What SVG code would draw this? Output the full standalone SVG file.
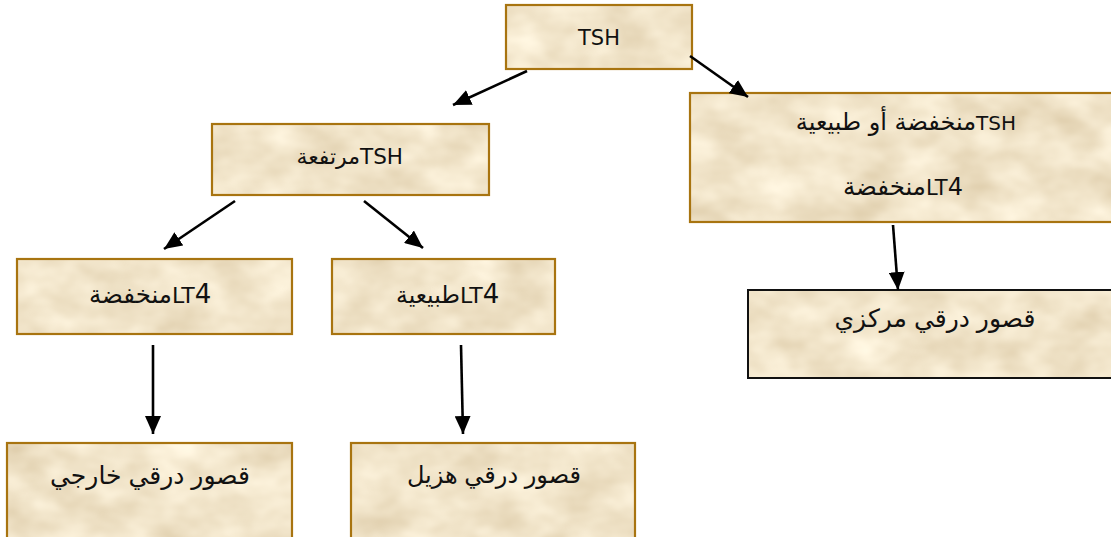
<svg xmlns="http://www.w3.org/2000/svg" width="1111" height="537" viewBox="0 0 1111 537">
  <defs>
    <!-- parchment texture for box fills -->
    <filter id="parch" x="0" y="0" width="100%" height="100%" color-interpolation-filters="sRGB">
      <feTurbulence type="fractalNoise" baseFrequency="0.02 0.03" numOctaves="3" seed="7" result="noise"/>
      <feColorMatrix in="noise" type="matrix" values="0.16 0 0 0 0.865  0.2 0 0 0 0.795  0.26 0 0 0 0.66  0 0 0 0 1" result="tint"/>
      <feComposite in="tint" in2="SourceGraphic" operator="in"/>
    </filter>
    <marker id="head" markerUnits="userSpaceOnUse" markerWidth="20" markerHeight="16" refX="18" refY="8" orient="auto">
      <path d="M0,0 L18,8 L0,16 Z" fill="#000"/>
    </marker>
    <style>
      .paper { fill: #F2E4C8; filter: url(#parch); }
      .edge { fill: none; stroke: #A87410; stroke-width: 2.2; }
      .edge-dark { fill: none; stroke: #111; stroke-width: 2; }
      .lbl { font-family: "DejaVu Sans", "Noto Sans", sans-serif; fill: #111; }
      .ar { font-family: "Liberation Sans", "DejaVu Sans", sans-serif; fill: #111; }
      .conn line { stroke: #000; stroke-width: 2.6; marker-end: url(#head); }
    </style>
  </defs>

  <rect width="1111" height="537" fill="#fff"/>

  <!-- root -->
  <g id="node-tsh">
    <rect class="paper" x="506" y="5" width="186" height="64"/>
    <rect class="edge" x="506" y="5" width="186" height="64"/>
    <text class="lbl" x="599" y="45" font-size="21" text-anchor="middle">TSH</text>
  </g>

  <!-- high TSH: Latin part right of the split, Arabic part left of it -->
  <g id="node-tsh-high">
    <rect class="paper" x="212" y="124" width="277" height="71"/>
    <rect class="edge" x="212" y="124" width="277" height="71"/>
    <text class="lbl" x="360" y="164" font-size="21.5">TSH</text>
    <text class="lbl" x="360" y="164" font-size="22" text-anchor="end">مرتفعة</text>
  </g>

  <!-- low or normal TSH -->
  <g id="node-tsh-low">
    <rect class="paper" x="690" y="93" width="430" height="129"/>
    <rect class="edge" x="690" y="93" width="430" height="129"/>
    <text class="lbl" x="976" y="130" font-size="20">TSH</text>
    <text class="lbl" x="976" y="130" font-size="24" text-anchor="end">منخفضة أو طبيعية</text>
    <text class="lbl" x="926" y="195"><tspan font-size="21">LT</tspan><tspan font-size="24">4</tspan></text>
    <text class="lbl" x="926" y="195" font-size="24.5" text-anchor="end">منخفضة</text>
  </g>

  <!-- low LT4 -->
  <g id="node-lt4-low">
    <rect class="paper" x="17" y="259" width="275" height="75"/>
    <rect class="edge" x="17" y="259" width="275" height="75"/>
    <text class="lbl" x="172" y="303"><tspan font-size="22">LT</tspan><tspan font-size="26">4</tspan></text>
    <text class="lbl" x="172" y="303" font-size="24.5" text-anchor="end">منخفضة</text>
  </g>

  <!-- normal LT4 -->
  <g id="node-lt4-normal">
    <rect class="paper" x="332" y="259" width="223" height="75"/>
    <rect class="edge" x="332" y="259" width="223" height="75"/>
    <text class="lbl" x="460" y="303"><tspan font-size="22">LT</tspan><tspan font-size="26">4</tspan></text>
    <text class="lbl" x="460" y="303" font-size="23.5" text-anchor="end">طبيعية</text>
  </g>

  <!-- central hypothyroidism -->
  <g id="node-central">
    <rect class="paper" x="748" y="290" width="372" height="88"/>
    <rect class="edge-dark" x="748" y="290" width="372" height="88"/>
    <text class="ar" x="935" y="327" font-size="25" direction="rtl" text-anchor="middle">قصور درقي مركزي</text>
  </g>

  <!-- primary hypothyroidism -->
  <g id="node-primary">
    <rect class="paper" x="7" y="443" width="285" height="110"/>
    <rect class="edge" x="7" y="443" width="285" height="110"/>
    <text class="ar" x="150" y="484" font-size="25" direction="rtl" text-anchor="middle">قصور درقي خارجي</text>
  </g>

  <!-- subclinical hypothyroidism -->
  <g id="node-subclinical">
    <rect class="paper" x="351" y="443" width="284" height="110"/>
    <rect class="edge" x="351" y="443" width="284" height="110"/>
    <text class="ar" x="494" y="483" font-size="24" direction="rtl" text-anchor="middle">قصور درقي هزيل</text>
  </g>

  <g id="connectors" class="conn">
    <line x1="527" y1="71" x2="453" y2="105"/>
    <line x1="690" y1="56" x2="748" y2="97"/>
    <line x1="235" y1="201" x2="164" y2="249"/>
    <line x1="364" y1="201" x2="423" y2="248"/>
    <line x1="893" y1="225" x2="898" y2="290"/>
    <line x1="153" y1="345" x2="153" y2="434"/>
    <line x1="461" y1="345" x2="463" y2="434"/>
  </g>
</svg>
